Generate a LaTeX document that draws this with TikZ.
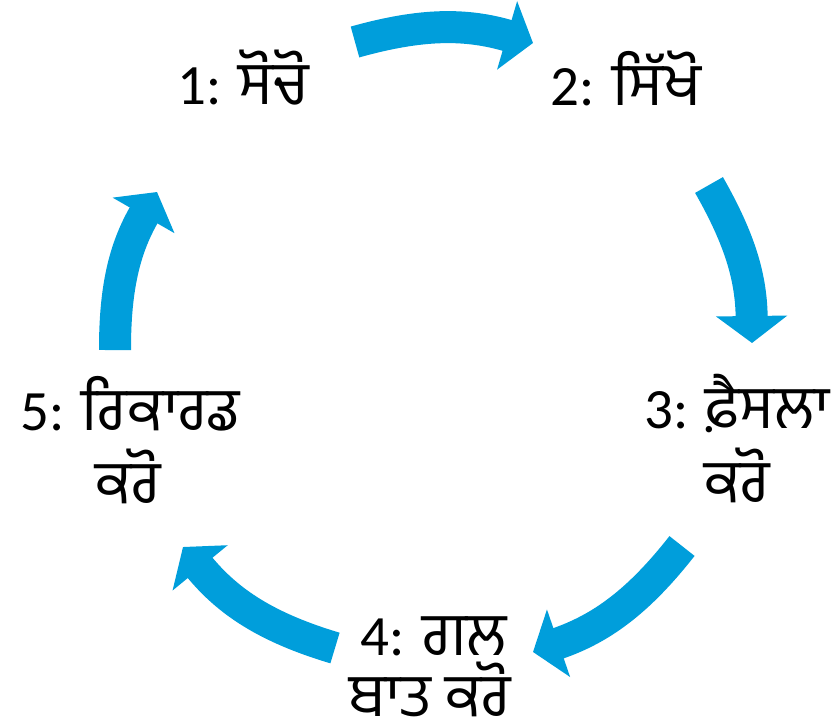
\documentclass[tikz,border=0pt]{standalone}
\usepackage{fontspec}
\setmainfont{Carlito}
\newfontfamily\pa[Script=Gurmukhi,Scale=1.06]{Hind Jalandhar}
\usetikzlibrary{arrows.meta}
\definecolor{cyc}{RGB}{0,158,219}
\begin{document}
\begin{tikzpicture}[x=1pt,y=-1pt,
  cycarrow/.style={draw=cyc, line width=32pt, -{Triangle[length=27pt,width=70pt]}},
  lbl/.style={anchor=base, inner sep=0pt, text depth=0pt, font=\fontsize{57}{73}\selectfont}]
\useasboundingbox (0,0) rectangle (833,726);
% labels
\node[lbl] (l1) at (243,104) {1: {\pa ਸੋਚੋ}};
\node[lbl] (l2) at (626,105) {2: {\pa ਸਿੱਖੋ}};
\node[lbl] (l3a) at (737,428) {3: {\pa ਫ਼ੈਸਲਾ}};
\node[lbl] (l3b) at (737,502) {\pa ਕਰੋ};
\node[lbl] (l4a) at (434,655) {4: {\pa ਗਲ}};
\node[lbl] (l4b) at (430,716) {\pa ਬਾਤ ਕਰੋ};
\node[lbl] (l5a) at (130,430) {5: {\pa ਰਿਕਾਰਡ}};
\node[lbl] (l5b) at (128,503) {\pa ਕਰੋ};
% arrows
\coordinate (t1) at (355,42);  \coordinate (h1) at (533,43);
\coordinate (t2) at (709,185); \coordinate (h2) at (752,343);
\coordinate (t3) at (682,546); \coordinate (h3) at (533,652);
\coordinate (t4) at (335,648); \coordinate (h4) at (183,547);
\coordinate (t5) at (115,350); \coordinate (h5) at (157,192);
\draw[cycarrow] (t1) to[bend left=16] (h1);
\draw[cycarrow] (t2) to[bend left=14.5] (h2);
\draw[cycarrow] (t3) to[bend left=16.5] (h3);
\draw[cycarrow] (t4) to[bend left=17] (h4);
\draw[cycarrow] (t5) to[bend left=15] (h5);
\end{tikzpicture}
\end{document}
